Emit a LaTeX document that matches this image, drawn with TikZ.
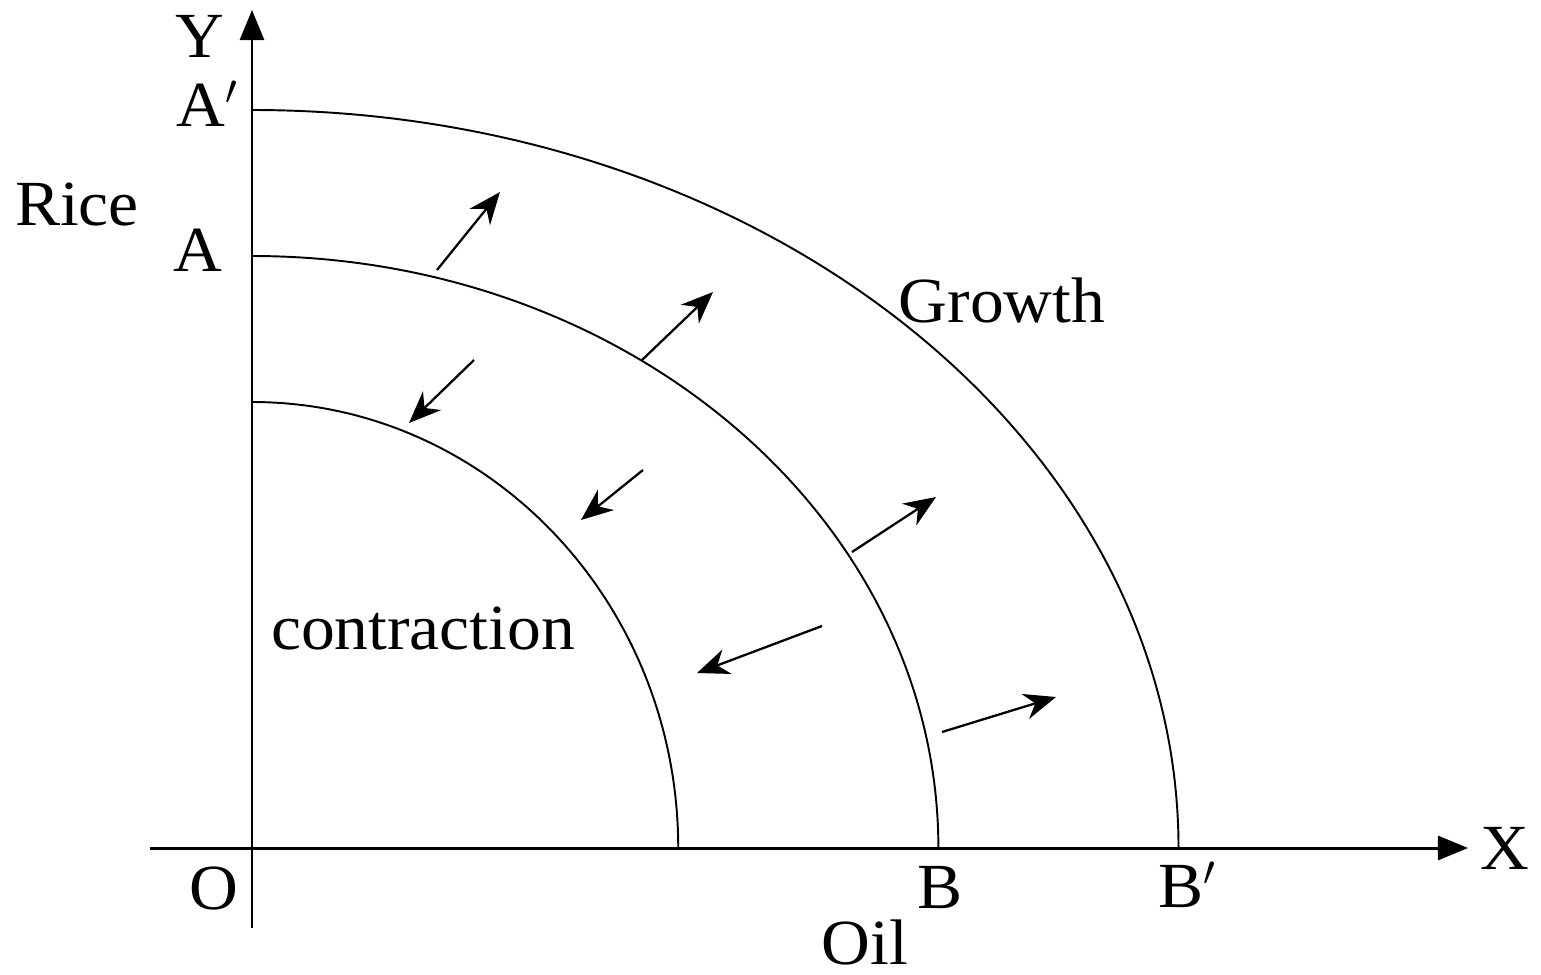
\documentclass[tikz,border=0pt]{standalone}
\usepackage{fontspec}
\setmainfont{Liberation Serif}[FakeStretch=1.05]
\usetikzlibrary{arrows.meta}
\begin{document}
\begin{tikzpicture}[x=0.01cm,y=-0.01cm,
  lbl/.style={inner sep=0pt, font=\fontsize{18.3}{20}\selectfont},
  axis/.style={line width=0.85pt, -{Triangle[length=0.3cm,width=0.24cm]}},
  curve/.style={line width=0.55pt},
  shift arrow/.style={line width=0.65pt, -{Stealth[length=0.32cm,width=0.26cm]}}]
\useasboundingbox (0,0) rectangle (1541,975);
% axes
\coordinate (ybot) at (252,928);
\coordinate (ytop) at (252,10);
\coordinate (xl) at (150,848);
\coordinate (xr) at (1468,848);
\draw[axis] (ybot) -- (ytop);
\draw[axis] (xl) -- (xr);
% curves
\coordinate (Aprime) at (252,110);
\coordinate (A) at (252,256);
\coordinate (Ain) at (252,402);
\draw[curve] (Aprime) arc[start angle=90,end angle=0,x radius=9.26cm,y radius=7.38cm];
\draw[curve] (A) arc[start angle=90,end angle=0,x radius=6.86cm,y radius=5.92cm];
\draw[curve] (Ain) arc[start angle=90,end angle=0,x radius=4.26cm,y radius=4.46cm];
% arrows
\coordinate (a1s) at (437,270); \coordinate (a1e) at (500,192);
\coordinate (a2s) at (642,360); \coordinate (a2e) at (713,292);
\coordinate (a3s) at (474,360); \coordinate (a3e) at (409,423);
\coordinate (a4s) at (643,470); \coordinate (a4e) at (581,520);
\coordinate (a5s) at (852,552); \coordinate (a5e) at (936,497);
\coordinate (a6s) at (822,626); \coordinate (a6e) at (697,673);
\coordinate (a7s) at (942,732); \coordinate (a7e) at (1056,697);
\foreach \i in {1,...,7} \draw[shift arrow] (a\i s) -- (a\i e);
% labels
\node[lbl] (Y) at (200,36) {Y};
\node[lbl] (Ap) at (208,104) {A$'$};
\node[lbl] (rice) at (77,205) {Rice};
\node[lbl] (Alab) at (198,250) {A};
\node[lbl] (growth) at (1002,300) {Growth};
\node[lbl] (contr) at (423,628) {contraction};
\node[lbl] (O) at (214,888) {O};
\node[lbl] (B) at (940,888) {B};
\node[lbl] (Bp) at (1188,885) {B$'$};
\node[lbl] (X) at (1505,848) {X};
\node[lbl] (oil) at (865,942) {Oil};
\end{tikzpicture}
\end{document}
